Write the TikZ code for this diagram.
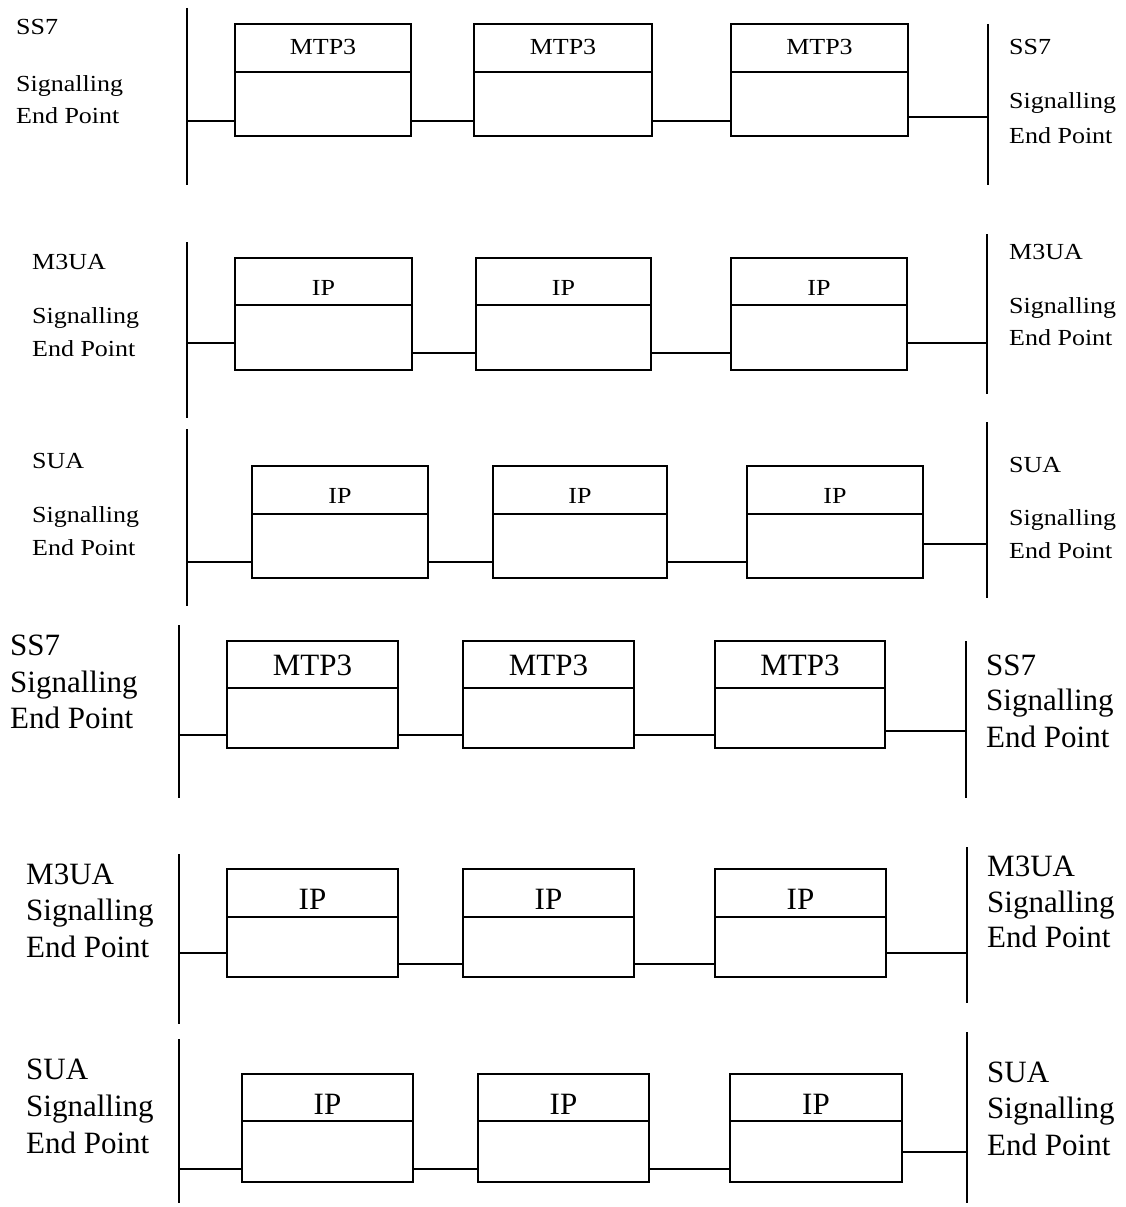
\documentclass[tikz,border=0pt]{standalone}
\usepackage{fontspec}
\setmainfont{Liberation Serif}
\newfontfamily\widefont[FakeStretch=1.13]{Liberation Serif}
\tikzset{
  boxst/.style={draw, line width=2pt, inner sep=0pt, outer sep=0pt},
  conn/.style={line width=2pt},
  vline/.style={line width=2.4pt},
  topbox/.style={font=\widefont\fontsize{23}{28}\selectfont},
  toplab/.style={font=\widefont\fontsize{23}{28}\selectfont, anchor=base west, inner sep=0pt},
  botbox/.style={font=\fontsize{31}{36}\selectfont},
  botlab/.style={font=\fontsize{31}{36}\selectfont, anchor=base west, inner sep=0pt}
}
% name, x1, x2, ytop, ydiv, ybot, text, font style, text baseline
\newcommand\pbox[9]{%
  \node[boxst, minimum width={(#3-#2)*1pt}, minimum height={(#6-#4)*1pt}] (#1) at ({(#2+#3)/2},{(#4+#6)/2}) {};
  \draw[conn] (#1.west |- 0,#5) -- (#1.east |- 0,#5);
  \node[#8, anchor=base, inner sep=0pt] (#1t) at ({(#2+#3)/2},#9) {#7};}
% name, style, x, baseline, text
\newcommand\plbl[5]{\node[#2] (#1) at (#3,#4) {#5};}
\begin{document}
\begin{tikzpicture}[x=1pt,y=-1pt]
\useasboundingbox (0,0) rectangle (1126,1207);
\fill[white] (0,0) rectangle (1126,1207);

% ---------- Section 1: SS7 (small) ----------
\coordinate (L1a) at (187,8);   \coordinate (L1b) at (187,185);
\coordinate (R1a) at (988,24);  \coordinate (R1b) at (988,185);
\draw[vline] (L1a) -- (L1b);
\draw[vline] (R1a) -- (R1b);
\pbox{a1}{235}{411}{24}{72}{136}{MTP3}{topbox}{55}
\pbox{a2}{474}{652}{24}{72}{136}{MTP3}{topbox}{55}
\pbox{a3}{731}{908}{24}{72}{136}{MTP3}{topbox}{55}
\draw[conn] (L1a |- 0,121) -- (a1.west |- 0,121);
\draw[conn] (a1.east |- 0,121) -- (a2.west |- 0,121);
\draw[conn] (a2.east |- 0,121) -- (a3.west |- 0,121);
\draw[conn] (a3.east |- 0,117) -- (R1a |- 0,117);
\plbl{l1a}{toplab}{16}{35}{SS7}
\plbl{l1b}{toplab}{16}{92}{Signalling}
\plbl{l1c}{toplab}{16}{123}{End Point}
\plbl{r1a}{toplab}{1009}{55}{SS7}
\plbl{r1b}{toplab}{1009}{108}{Signalling}
\plbl{r1c}{toplab}{1009}{143}{End Point}

% ---------- Section 2: M3UA (small) ----------
\coordinate (L2a) at (187,242); \coordinate (L2b) at (187,418);
\coordinate (R2a) at (987,234); \coordinate (R2b) at (987,394);
\draw[vline] (L2a) -- (L2b);
\draw[vline] (R2a) -- (R2b);
\pbox{b1}{235}{412}{258}{305}{370}{IP}{topbox}{295}
\pbox{b2}{476}{651}{258}{305}{370}{IP}{topbox}{295}
\pbox{b3}{731}{907}{258}{305}{370}{IP}{topbox}{295}
\draw[conn] (L2a |- 0,343) -- (b1.west |- 0,343);
\draw[conn] (b1.east |- 0,353) -- (b2.west |- 0,353);
\draw[conn] (b2.east |- 0,353) -- (b3.west |- 0,353);
\draw[conn] (b3.east |- 0,343) -- (R2a |- 0,343);
\plbl{l2a}{toplab}{32}{269}{M3UA}
\plbl{l2b}{toplab}{32}{323}{Signalling}
\plbl{l2c}{toplab}{32}{356}{End Point}
\plbl{r2a}{toplab}{1009}{259}{M3UA}
\plbl{r2b}{toplab}{1009}{313}{Signalling}
\plbl{r2c}{toplab}{1009}{345}{End Point}

% ---------- Section 3: SUA (small) ----------
\coordinate (L3a) at (187,429); \coordinate (L3b) at (187,606);
\coordinate (R3a) at (987,422); \coordinate (R3b) at (987,598);
\draw[vline] (L3a) -- (L3b);
\draw[vline] (R3a) -- (R3b);
\pbox{c1}{252}{428}{466}{514}{578}{IP}{topbox}{503}
\pbox{c2}{493}{667}{466}{514}{578}{IP}{topbox}{503}
\pbox{c3}{747}{923}{466}{514}{578}{IP}{topbox}{503}
\draw[conn] (L3a |- 0,562) -- (c1.west |- 0,562);
\draw[conn] (c1.east |- 0,562) -- (c2.west |- 0,562);
\draw[conn] (c2.east |- 0,562) -- (c3.west |- 0,562);
\draw[conn] (c3.east |- 0,544) -- (R3a |- 0,544);
\plbl{l3a}{toplab}{32}{468}{SUA}
\plbl{l3b}{toplab}{32}{522}{Signalling}
\plbl{l3c}{toplab}{32}{555}{End Point}
\plbl{r3a}{toplab}{1009}{472}{SUA}
\plbl{r3b}{toplab}{1009}{525}{Signalling}
\plbl{r3c}{toplab}{1009}{558}{End Point}

% ---------- Section 4: SS7 (large) ----------
\coordinate (L4a) at (179,625); \coordinate (L4b) at (179,798);
\coordinate (R4a) at (966,641); \coordinate (R4b) at (966,798);
\draw[vline] (L4a) -- (L4b);
\draw[vline] (R4a) -- (R4b);
\pbox{d1}{227}{398}{641}{688}{748}{MTP3}{botbox}{675}
\pbox{d2}{463}{634}{641}{688}{748}{MTP3}{botbox}{675}
\pbox{d3}{715}{885}{641}{688}{748}{MTP3}{botbox}{675}
\draw[conn] (L4a |- 0,735) -- (d1.west |- 0,735);
\draw[conn] (d1.east |- 0,735) -- (d2.west |- 0,735);
\draw[conn] (d2.east |- 0,735) -- (d3.west |- 0,735);
\draw[conn] (d3.east |- 0,731) -- (R4a |- 0,731);
\plbl{l4a}{botlab}{10}{655}{SS7}
\plbl{l4b}{botlab}{10}{692}{Signalling}
\plbl{l4c}{botlab}{10}{728}{End Point}
\plbl{r4a}{botlab}{986}{675}{SS7}
\plbl{r4b}{botlab}{986}{710}{Signalling}
\plbl{r4c}{botlab}{986}{747}{End Point}

% ---------- Section 5: M3UA (large) ----------
\coordinate (L5a) at (179,854); \coordinate (L5b) at (179,1024);
\coordinate (R5a) at (967,847); \coordinate (R5b) at (967,1003);
\draw[vline] (L5a) -- (L5b);
\draw[vline] (R5a) -- (R5b);
\pbox{e1}{227}{398}{869}{917}{977}{IP}{botbox}{909}
\pbox{e2}{463}{634}{869}{917}{977}{IP}{botbox}{909}
\pbox{e3}{715}{886}{869}{917}{977}{IP}{botbox}{909}
\draw[conn] (L5a |- 0,953) -- (e1.west |- 0,953);
\draw[conn] (e1.east |- 0,964) -- (e2.west |- 0,964);
\draw[conn] (e2.east |- 0,964) -- (e3.west |- 0,964);
\draw[conn] (e3.east |- 0,953) -- (R5a |- 0,953);
\plbl{l5a}{botlab}{26}{884}{M3UA}
\plbl{l5b}{botlab}{26}{920}{Signalling}
\plbl{l5c}{botlab}{26}{957}{End Point}
\plbl{r5a}{botlab}{987}{876}{M3UA}
\plbl{r5b}{botlab}{987}{912}{Signalling}
\plbl{r5c}{botlab}{987}{947}{End Point}

% ---------- Section 6: SUA (large) ----------
\coordinate (L6a) at (179,1039); \coordinate (L6b) at (179,1203);
\coordinate (R6a) at (967,1032); \coordinate (R6b) at (967,1203);
\draw[vline] (L6a) -- (L6b);
\draw[vline] (R6a) -- (R6b);
\pbox{f1}{242}{413}{1074}{1121}{1182}{IP}{botbox}{1114}
\pbox{f2}{478}{649}{1074}{1121}{1182}{IP}{botbox}{1114}
\pbox{f3}{730}{902}{1074}{1121}{1182}{IP}{botbox}{1114}
\draw[conn] (L6a |- 0,1169) -- (f1.west |- 0,1169);
\draw[conn] (f1.east |- 0,1169) -- (f2.west |- 0,1169);
\draw[conn] (f2.east |- 0,1169) -- (f3.west |- 0,1169);
\draw[conn] (f3.east |- 0,1152) -- (R6a |- 0,1152);
\plbl{l6a}{botlab}{26}{1079}{SUA}
\plbl{l6b}{botlab}{26}{1116}{Signalling}
\plbl{l6c}{botlab}{26}{1153}{End Point}
\plbl{r6a}{botlab}{987}{1082}{SUA}
\plbl{r6b}{botlab}{987}{1118}{Signalling}
\plbl{r6c}{botlab}{987}{1155}{End Point}
\end{tikzpicture}
\end{document}
